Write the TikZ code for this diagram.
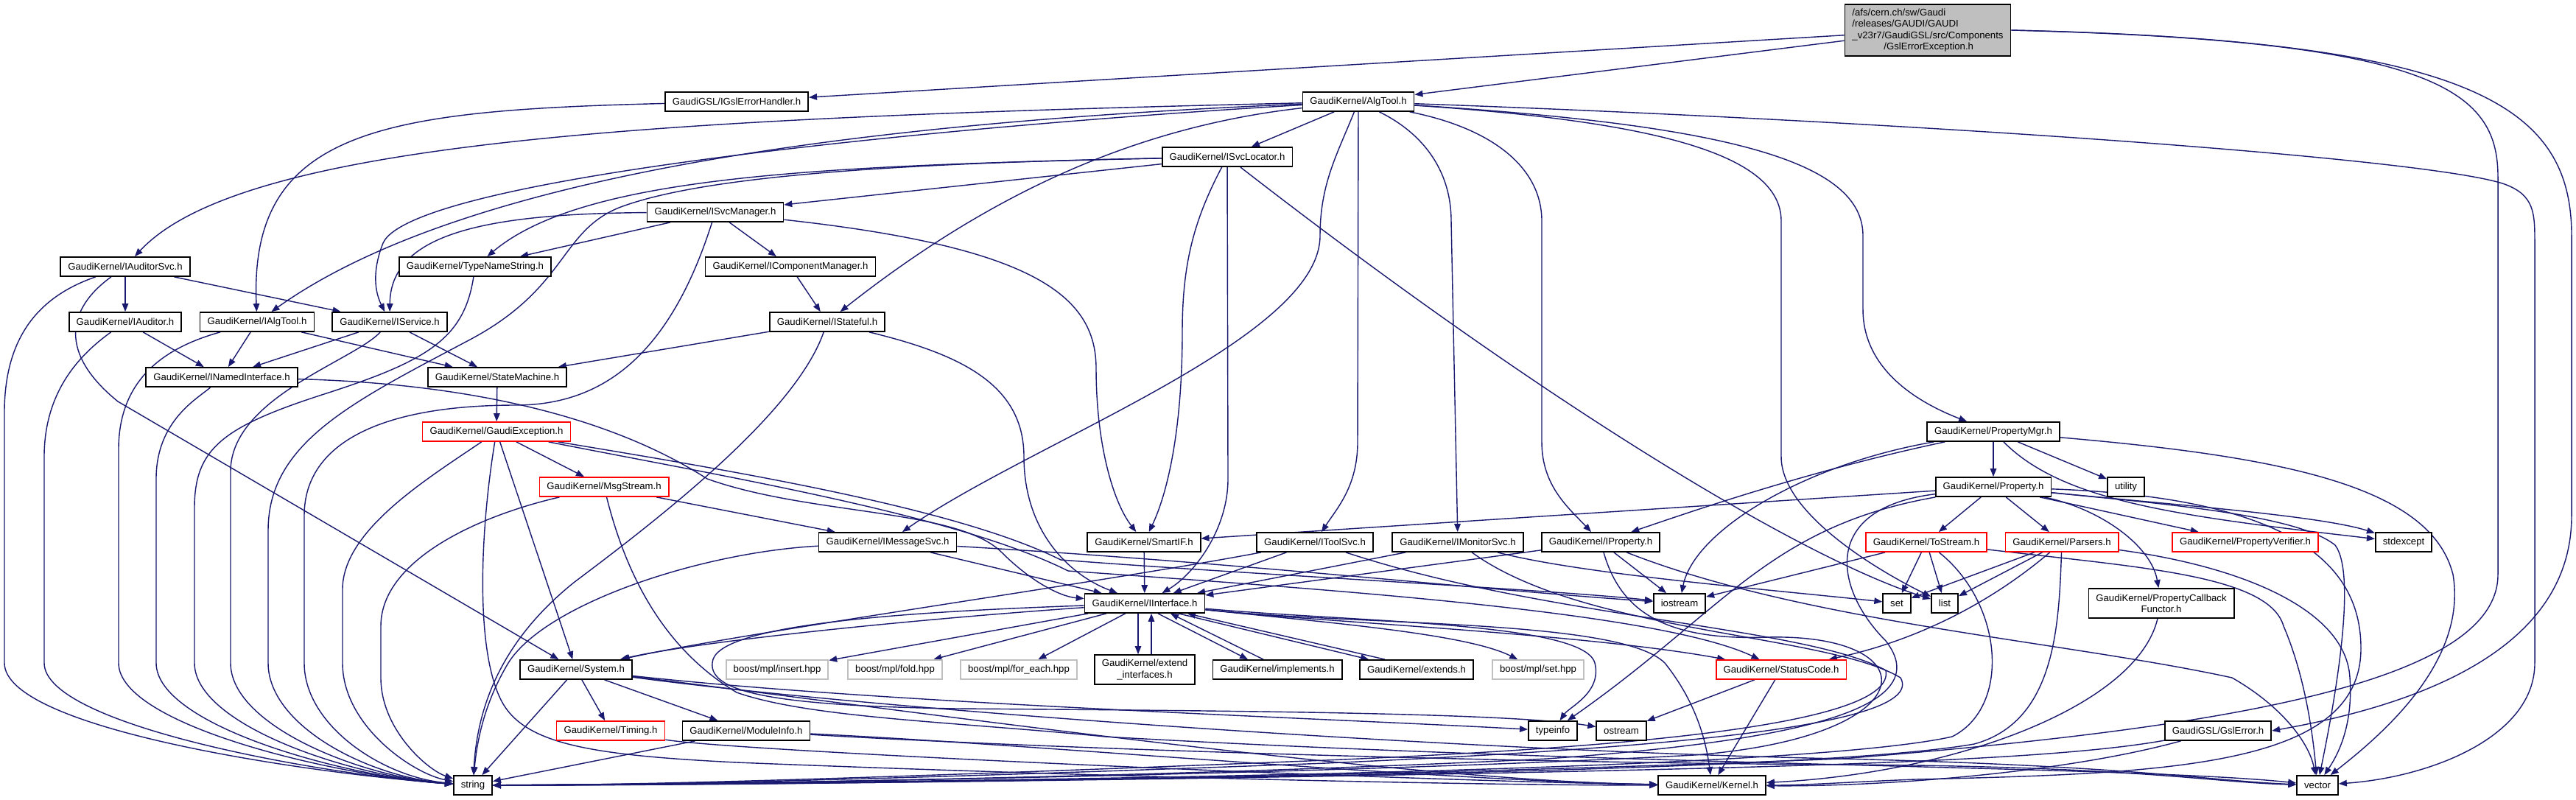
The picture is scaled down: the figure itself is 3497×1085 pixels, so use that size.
\documentclass[tikz,border=0pt]{standalone}
\usepackage{fontspec}
\setmainfont{Liberation Sans}
\usepackage{tikz}
\usetikzlibrary{arrows.meta}
\pgfdeclarelayer{bg}
\pgfsetlayers{bg,main}
\definecolor{gvblue}{RGB}{25,25,112}
\definecolor{gvred}{RGB}{255,0,0}
\definecolor{gvgrey}{RGB}{191,191,191}
\newcommand{\gvfont}{\fontsize{7.5}{8.7}\selectfont}
\tikzset{
  hdr/.style={rectangle, draw=black, fill=white, line width=1pt,
    font=\gvfont, inner xsep=0.2cm, inner ysep=0.05cm, minimum height=0.52cm},
  redhdr/.style={hdr, draw=gvred},
  exthdr/.style={hdr, draw=gvgrey},
  incl/.style={-{Triangle[length=0.22cm,width=0.17cm]}, line width=0.8pt, color=gvblue}
}
\begin{document}
\begin{tikzpicture}[x=0.02cm, y=-0.02cm]
  \useasboundingbox (0,0) rectangle (3497,1085);
  % headers
  \node[hdr, fill=gvgrey, align=left, minimum height=1.4cm] (root) at (2617,41)
    {/afs/cern.ch/sw/Gaudi\\/releases/GAUDI/GAUDI\\\_v23r7/GaudiGSL/src/Components\\\hspace*{0.86cm}/GslErrorException.h};
  \node[hdr] (gslhandler) at (1000,138) {GaudiGSL/IGslErrorHandler.h};
  \node[hdr] (algtool) at (1844,138) {GaudiKernel/AlgTool.h};
  \node[hdr] (svclocator) at (1666,213) {GaudiKernel/ISvcLocator.h};
  \node[hdr] (svcmanager) at (971,288) {GaudiKernel/ISvcManager.h};
  \node[hdr] (auditorsvc) at (170,362) {GaudiKernel/IAuditorSvc.h};
  \node[hdr] (typename) at (645,362) {GaudiKernel/TypeNameString.h};
  \node[hdr] (compmgr) at (1073,362) {GaudiKernel/IComponentManager.h};
  \node[hdr] (auditor) at (170,437) {GaudiKernel/IAuditor.h};
  \node[hdr] (ialgtool) at (349,437) {GaudiKernel/IAlgTool.h};
  \node[hdr] (service) at (529,437) {GaudiKernel/IService.h};
  \node[hdr] (stateful) at (1123,437) {GaudiKernel/IStateful.h};
  \node[hdr] (named) at (301,512) {GaudiKernel/INamedInterface.h};
  \node[hdr] (statemach) at (675,512) {GaudiKernel/StateMachine.h};
  \node[redhdr] (gexcept) at (674,586) {GaudiKernel/GaudiException.h};
  \node[hdr] (propmgr) at (2706,586) {GaudiKernel/PropertyMgr.h};
  \node[redhdr] (msgstream) at (820,661) {GaudiKernel/MsgStream.h};
  \node[hdr] (property) at (2706,661) {GaudiKernel/Property.h};
  \node[hdr] (utility) at (2886,661) {utility};
  \node[hdr] (msgsvc) at (1205,736) {GaudiKernel/IMessageSvc.h};
  \node[hdr] (smartif) at (1553,736) {GaudiKernel/SmartIF.h};
  \node[hdr] (toolsvc) at (1785,736) {GaudiKernel/IToolSvc.h};
  \node[hdr] (monsvc) at (1979,736) {GaudiKernel/IMonitorSvc.h};
  \node[hdr] (iprop) at (2173,736) {GaudiKernel/IProperty.h};
  \node[redhdr] (tostream) at (2615,736) {GaudiKernel/ToStream.h};
  \node[redhdr] (parsers) at (2799,736) {GaudiKernel/Parsers.h};
  \node[redhdr] (verifier) at (3048,736) {GaudiKernel/PropertyVerifier.h};
  \node[hdr] (stdexcept) at (3263,736) {stdexcept};
  \node[hdr] (iface) at (1554,819) {GaudiKernel/IInterface.h};
  \node[hdr] (iostream) at (2280,819) {iostream};
  \node[hdr] (set) at (2575,819) {set};
  \node[hdr] (list) at (2640,819) {list};
  \node[hdr, align=center, minimum height=0.8cm] (callback) at (2934,819) {GaudiKernel/PropertyCallback\\Functor.h};
  \node[hdr] (system) at (782,909) {GaudiKernel/System.h};
  \node[exthdr] (mplinsert) at (1055,909) {boost/mpl/insert.hpp};
  \node[exthdr] (mplfold) at (1215,909) {boost/mpl/fold.hpp};
  \node[exthdr] (mplforeach) at (1383,909) {boost/mpl/for\_each.hpp};
  \node[hdr, align=center, minimum height=0.8cm] (extendif) at (1554,909) {GaudiKernel/extend\\\_interfaces.h};
  \node[hdr] (implements) at (1734,909) {GaudiKernel/implements.h};
  \node[hdr] (extends) at (1923,909) {GaudiKernel/extends.h};
  \node[exthdr] (mplset) at (2088,909) {boost/mpl/set.hpp};
  \node[redhdr] (statuscode) at (2418,909) {GaudiKernel/StatusCode.h};
  \node[redhdr] (timing) at (829,992) {GaudiKernel/Timing.h};
  \node[hdr] (modinfo) at (1013,992) {GaudiKernel/ModuleInfo.h};
  \node[hdr] (typeinfo) at (2108,992) {typeinfo};
  \node[hdr] (ostream) at (2201,992) {ostream};
  \node[hdr] (gslerror) at (3011,992) {GaudiGSL/GslError.h};
  \node[hdr] (string) at (642,1066) {string};
  \node[hdr] (kernel) at (2324,1066) {GaudiKernel/Kernel.h};
  \node[hdr] (vector) at (3146,1066) {vector};

  \begin{pgfonlayer}{bg}
  \fill[white] (0,0) rectangle (3497,1085);
  % root file
  \draw[incl] (root) -- (gslhandler);
  \draw[incl] (root) -- (algtool);
  \draw[incl] (root.east) .. controls (3350,55) and (3491,140) .. (3491,320) -- (3491,700)
       .. controls (3491,850) and (3350,945) .. (gslerror.east);
  \draw[incl] (root.east) .. controls (3300,55) and (3391,120) .. (3391,240) -- (3391,780)
       .. controls (3391,930) and (3000,990) .. (2500,1030) .. controls (1800,1058) and (1000,1066) .. (string);
  \draw[incl] (gslhandler) .. controls (520,150) and (338,175) .. (ialgtool);

  % AlgTool.h
  \draw[incl] (algtool) .. controls (900,160) and (330,190) .. (auditorsvc);
  \draw[incl] (algtool) .. controls (1200,165) and (640,230) .. (ialgtool);
  \draw[incl] (algtool) .. controls (1300,170) and (560,240) .. (520,330) .. controls (508,360) and (506,390) .. (service);
  \draw[incl] (algtool) -- (svclocator);
  \draw[incl] (algtool) .. controls (1560,170) and (1360,250) .. (stateful);
  \draw[incl] (algtool) .. controls (1815,210) and (1792,250) .. (1792,320) .. controls (1792,460) and (1400,600) .. (msgsvc);
  \draw[incl] (algtool) -- (1843,600) .. controls (1843,660) and (1815,690) .. (toolsvc);
  \draw[incl] (algtool) .. controls (1930,180) and (1970,230) .. (1970,300) -- (monsvc);
  \draw[incl] (algtool) .. controls (2030,175) and (2093,230) .. (2093,300) -- (2093,600)
       .. controls (2093,660) and (2130,690) .. (iprop);
  \draw[incl] (algtool) .. controls (2250,165) and (2418,210) .. (2418,300) -- (2418,620)
       .. controls (2418,700) and (2560,780) .. (list);
  \draw[incl] (algtool) .. controls (2350,170) and (2529,220) .. (2529,320) -- (2529,420)
       .. controls (2529,500) and (2600,545) .. (propmgr);
  \draw[incl] (algtool) .. controls (2600,165) and (3300,215) .. (3400,250) .. controls (3441,265) and (3441,290) .. (3441,330)
       -- (3441,900) .. controls (3441,1000) and (3300,1055) .. (vector);

  % left column
  \draw[incl] (auditorsvc) -- (auditor);
  \draw[incl] (auditorsvc) -- (service);
  \draw[incl] (auditorsvc) .. controls (90,420) and (80,480) .. (160,545) -- (system);
  \draw[incl] (auditorsvc) .. controls (60,400) and (6,450) .. (6,560) -- (6,900) .. controls (6,990) and (420,1050) .. (string);
  \draw[incl] (auditor) -- (named);
  \draw[incl] (auditor) .. controls (110,480) and (60,530) .. (60,620) -- (60,900) .. controls (60,985) and (440,1052) .. (string);
  \draw[incl] (ialgtool) -- (named);
  \draw[incl] (ialgtool) -- (statemach);
  \draw[incl] (ialgtool) .. controls (230,470) and (161,510) .. (161,610) -- (161,900) .. controls (161,985) and (460,1054) .. (string);
  \draw[incl] (service) -- (named);
  \draw[incl] (service) -- (statemach);
  \draw[incl] (service) .. controls (480,490) and (313,540) .. (313,640) -- (313,900) .. controls (313,985) and (490,1055) .. (string);
  \draw[incl] (named) .. controls (620,520) and (820,560) .. (960,650) .. controls (1100,700) and (1300,690) .. (1360,750)
       .. controls (1400,790) and (1440,810) .. (iface);
  \draw[incl] (named) .. controls (270,540) and (212,570) .. (212,650) -- (212,900) .. controls (212,985) and (470,1055) .. (string);
  \draw[incl] (statemach) -- (gexcept);
  \draw[incl] (typename) .. controls (630,460) and (580,490) .. (440,535) .. controls (300,580) and (264,610) .. (264,690)
       -- (264,900) .. controls (264,985) and (480,1055) .. (string);

  % ISvcLocator.h, ISvcManager.h, IStateful.h
  \draw[incl] (svclocator) -- (svcmanager);
  \draw[incl] (svclocator) .. controls (1100,225) and (790,240) .. (typename);
  \draw[incl] (svclocator) .. controls (1200,222) and (950,240) .. (840,282) .. controls (760,315) and (770,390) .. (640,460)
       .. controls (480,545) and (364,600) .. (364,720) -- (364,900) .. controls (364,985) and (500,1055) .. (string);
  \draw[incl] (svclocator) .. controls (1620,300) and (1605,360) .. (1605,450) .. controls (1605,600) and (1580,680) .. (smartif);
  \draw[incl] (svclocator) -- (1667,650) .. controls (1667,720) and (1620,780) .. (iface);
  \draw[incl] (svclocator) .. controls (2100,550) and (2450,760) .. (list);
  \draw[incl] (svcmanager) -- (compmgr);
  \draw[incl] (svcmanager) -- (typename);
  \draw[incl] (svcmanager) .. controls (650,290) and (530,320) .. (service);
  \draw[incl] (svcmanager) .. controls (1400,335) and (1488,400) .. (1488,500) .. controls (1488,600) and (1510,680) .. (smartif);
  \draw[incl] (svcmanager) .. controls (910,480) and (820,550) .. (700,550) .. controls (520,550) and (413,600) .. (413,700)
       -- (413,900) .. controls (413,985) and (520,1055) .. (string);
  \draw[incl] (compmgr) -- (stateful);
  \draw[incl] (stateful) -- (statemach);
  \draw[incl] (stateful) .. controls (1300,480) and (1390,520) .. (1390,620) .. controls (1390,720) and (1450,780) .. (iface);
  \draw[incl] (stateful) .. controls (1080,560) and (900,700) .. (780,790) .. controls (680,870) and (648,960) .. (string);

  % GaudiException.h, MsgStream.h
  \draw[incl] (gexcept) -- (msgstream);
  \draw[incl] (gexcept) -- (system);
  \draw[incl] (gexcept) .. controls (580,650) and (465,720) .. (465,800) -- (465,900) .. controls (465,985) and (560,1050) .. (string);
  \draw[incl] (gexcept) .. controls (652,720) and (645,880) .. (680,950) .. controls (710,1010) and (800,1025) .. (1000,1035)
       .. controls (1500,1055) and (2000,1066) .. (kernel);
  \draw[incl] (gexcept) .. controls (1000,640) and (1300,690) .. (1440,760) .. controls (1700,780) and (2100,800) .. (iostream);
  \draw[incl] (gexcept) .. controls (1000,650) and (1300,700) .. (1450,775) .. controls (1800,800) and (2250,830) .. (statuscode);
  \draw[incl] (msgstream) -- (msgsvc);
  \draw[incl] (msgstream) .. controls (650,700) and (517,760) .. (517,850) -- (517,920) .. controls (517,990) and (580,1045) .. (string);
  \draw[incl] (msgstream) .. controls (850,780) and (900,880) .. (1000,940) .. controls (1100,975) and (1300,980) .. (1500,1000)
       .. controls (2200,1040) and (2900,1040) .. (vector);

  % interface services
  \draw[incl] (msgsvc) -- (iface);
  \draw[incl] (msgsvc) .. controls (950,750) and (740,820) .. (690,900) .. controls (660,950) and (648,1000) .. (string);
  \draw[incl] (msgsvc) .. controls (1700,765) and (2000,800) .. (iostream);
  \draw[incl] (smartif) -- (iface);
  \draw[incl] (toolsvc) -- (iface);
  \draw[incl] (toolsvc) .. controls (1500,790) and (1000,860) .. (system);
  \draw[incl] (toolsvc) .. controls (2100,840) and (2450,850) .. (2560,910) .. controls (2575,985) and (2200,1015) .. (1800,1032)
       .. controls (1300,1052) and (900,1066) .. (string);
  \draw[incl] (monsvc) -- (iface);
  \draw[incl] (monsvc) .. controls (2150,780) and (2400,800) .. (set);
  \draw[incl] (monsvc) .. controls (2150,860) and (2480,860) .. (2580,920) .. controls (2620,990) and (2200,1018) .. (1800,1036)
       .. controls (1300,1055) and (900,1066) .. (string);
  \draw[incl] (iprop) -- (iface);
  \draw[incl] (iprop) -- (iostream);
  \draw[incl] (iprop) .. controls (2200,830) and (2260,870) .. (2400,865) .. controls (2620,860) and (2620,1000) .. (2300,1025)
       .. controls (1800,1052) and (900,1066) .. (string);
  \draw[incl] (iprop) .. controls (2450,845) and (2800,870) .. (3030,920) .. controls (3100,960) and (3135,1010) .. (vector);

  % PropertyMgr.h, Property.h
  \draw[incl] (propmgr) -- (property);
  \draw[incl] (propmgr) -- (utility);
  \draw[incl] (propmgr) .. controls (2800,680) and (2950,700) .. (stdexcept);
  \draw[incl] (propmgr) .. controls (3100,620) and (3300,660) .. (3330,780) .. controls (3350,900) and (3230,1000) .. (vector);
  \draw[incl] (propmgr) .. controls (2450,640) and (2280,700) .. (iprop);
  \draw[incl] (propmgr) .. controls (2450,630) and (2300,720) .. (iostream);
  \draw[incl] (property) -- (tostream);
  \draw[incl] (property) -- (parsers);
  \draw[incl] (property) -- (verifier);
  \draw[incl] (property) -- (smartif);
  \draw[incl] (property) .. controls (2850,690) and (2920,740) .. (callback);
  \draw[incl] (property) .. controls (2950,685) and (3150,700) .. (stdexcept);
  \draw[incl] (property) .. controls (2400,715) and (2340,830) .. (typeinfo);
  \draw[incl] (property) .. controls (2950,685) and (3120,700) .. (3170,740) .. controls (3200,780) and (3170,950) .. (vector);
  \draw[incl] (property) .. controls (3100,675) and (3205,760) .. (3205,880) .. controls (3205,1040) and (2950,1050) .. (2600,1058)
       .. controls (2500,1062) and (2450,1066) .. (kernel);
  \draw[incl] (property) .. controls (2470,690) and (2490,800) .. (2560,870) .. controls (2630,960) and (2450,1005) .. (2100,1030)
       .. controls (1600,1055) and (900,1066) .. (string);
  \draw[incl] (tostream) -- (iostream);
  \draw[incl] (tostream) -- (set);
  \draw[incl] (tostream) -- (list);
  \draw[incl] (tostream) .. controls (2900,770) and (3080,780) .. (3100,850) .. controls (3130,920) and (3140,1000) .. (vector);
  \draw[incl] (tostream) .. controls (2720,820) and (2730,960) .. (2650,1000) .. controls (2450,1045) and (1500,1060) .. (string);
  \draw[incl] (parsers) -- (set);
  \draw[incl] (parsers) -- (list);
  \draw[incl] (parsers) .. controls (2700,820) and (2600,870) .. (statuscode);
  \draw[incl] (parsers) .. controls (3050,770) and (3185,830) .. (3190,920) .. controls (3195,990) and (3170,1030) .. (vector);
  \draw[incl] (parsers) .. controls (2795,850) and (2790,980) .. (2680,1010) .. controls (2450,1050) and (1500,1060) .. (string);
  \draw[incl] (callback) .. controls (2900,960) and (2650,1050) .. (kernel);

  % IInterface.h
  \draw[incl] (iface) -- (mplinsert);
  \draw[incl] (iface) -- (mplfold);
  \draw[incl] (iface) -- (mplforeach);
  \draw[incl] ([xshift=-0.18cm]iface.south) -- ([xshift=-0.18cm]extendif.north);
  \draw[incl] ([xshift=0.18cm]extendif.north) -- ([xshift=0.18cm]iface.south);
  \draw[incl] ([xshift=0.36cm]iface.south) -- ([xshift=-0.8cm]implements.north);
  \draw[incl] ([xshift=-0.38cm]implements.north) -- ([xshift=0.7cm]iface.south);
  \draw[incl] ([xshift=0.92cm]iface.south) -- ([xshift=-1.3cm]extends.north);
  \draw[incl] ([xshift=-0.86cm]extends.north) -- ([xshift=1.16cm]iface.south);
  \draw[incl] (iface) .. controls (1800,845) and (1990,860) .. (mplset);
  \draw[incl] (iface) .. controls (1800,845) and (2150,860) .. (statuscode);
  \draw[incl] (iface) .. controls (1850,850) and (2200,840) .. (2260,900) .. controls (2300,950) and (2315,1000) .. (kernel);
  \draw[incl] (iface) .. controls (1850,845) and (2150,845) .. (2165,900) .. controls (2175,940) and (2130,960) .. (typeinfo);
  \draw[incl] (iface) .. controls (1250,840) and (950,870) .. (system);
  \draw[incl] (iface) .. controls (1250,830) and (985,845) .. (968,895) .. controls (955,940) and (1050,958) .. (1300,962)
       .. controls (1700,965) and (2050,968) .. (ostream);

  % System.h and below
  \draw[incl] (system) -- (string);
  \draw[incl] (system) -- (timing);
  \draw[incl] (system) -- (modinfo);
  \draw[incl] (system) .. controls (1200,955) and (1800,975) .. (typeinfo);
  \draw[incl] (system) .. controls (1200,960) and (1900,1060) .. (kernel);
  \draw[incl] (system) .. controls (1200,965) and (2000,1020) .. (2500,1030) .. controls (2900,1040) and (3000,1060) .. (vector);
  \draw[incl] (timing) .. controls (1000,1020) and (1900,1060) .. (kernel);
  \draw[incl] (modinfo) -- (string);
  \draw[incl] (modinfo) .. controls (1400,1010) and (1950,1060) .. (kernel);
  \draw[incl] (modinfo) .. controls (1400,1015) and (2000,1035) .. (2500,1038) .. controls (2900,1040) and (3000,1062) .. (vector);
  \draw[incl] (statuscode) -- (ostream);
  \draw[incl] (statuscode) -- (kernel);
  \draw[incl] (gslerror) .. controls (2800,1030) and (2500,1040) .. (2000,1050) .. controls (1500,1060) and (900,1066) .. (string);
  \draw[incl] (gslerror) .. controls (2800,1050) and (2550,1068) .. (kernel);
  \end{pgfonlayer}
\end{tikzpicture}
\end{document}
